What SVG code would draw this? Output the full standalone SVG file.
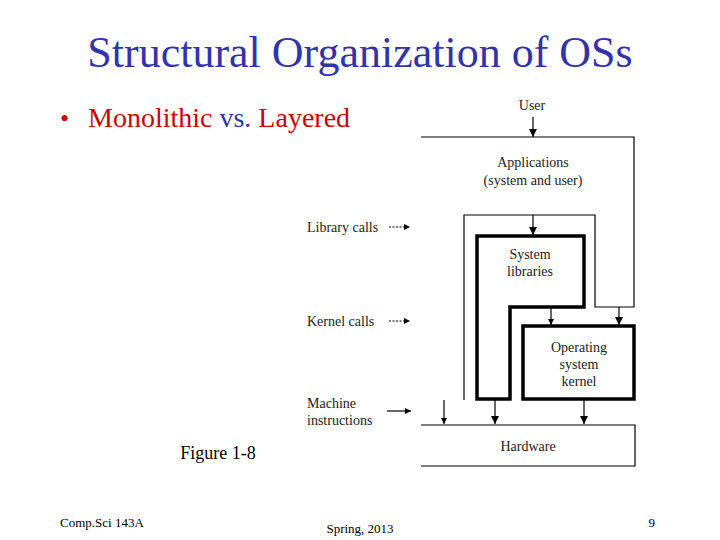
<svg xmlns="http://www.w3.org/2000/svg" width="720" height="540" viewBox="0 0 720 540">
<defs>
<marker id="ah" viewBox="0 0 10 10" refX="10" refY="5" markerWidth="6" markerHeight="7" markerUnits="userSpaceOnUse" orient="auto"><path d="M0,0 L10,5 L0,10 z" fill="#000"/></marker>
<marker id="ahb" viewBox="0 0 10 10" refX="10" refY="5" markerWidth="8" markerHeight="8" markerUnits="userSpaceOnUse" orient="auto"><path d="M0,0 L10,5 L0,10 z" fill="#000"/></marker>
</defs>
<style>
.s{font-family:"Liberation Serif",serif}
.f{font-family:"Liberation Serif",serif;font-size:14px;fill:#222}
.ln{fill:none;stroke:#000;stroke-width:1.2}
.thk{fill:none;stroke:#000;stroke-width:3.5}
</style>
<rect width="720" height="540" fill="#fff"/>
<text class="s" x="360" y="67" font-size="44" fill="#3333aa" text-anchor="middle">Structural Organization of OSs</text>
<text class="s" x="60" y="127" font-size="26" fill="#cc0000">•</text>
<text class="s" x="88" y="127" font-size="28"><tspan fill="#cc0000">Monolithic </tspan><tspan fill="#3333aa">vs. </tspan><tspan fill="#cc0000">Layered</tspan></text>
<g id="applications">
<path class="ln" d="M421,137 H634 V307 H595 V215 H464 V400"/>
<text class="f" x="533" y="167" text-anchor="middle">Applications</text>
<text class="f" x="533" y="185" text-anchor="middle">(system and user)</text>
</g>
<g id="syslib">
<path class="thk" d="M477,236 H584 V307 H510 V399 H477 Z"/>
<text class="f" x="530" y="259" text-anchor="middle">System</text>
<text class="f" x="530" y="276" text-anchor="middle">libraries</text>
</g>
<g id="kernel">
<rect class="thk" x="523" y="326" width="111" height="73"/>
<text class="f" x="579" y="352" text-anchor="middle">Operating</text>
<text class="f" x="579" y="369" text-anchor="middle">system</text>
<text class="f" x="579" y="386" text-anchor="middle">kernel</text>
</g>
<g id="hardware">
<path class="ln" d="M421,425 H635 V466 H421"/>
<text class="f" x="528" y="451" text-anchor="middle">Hardware</text>
</g>
<g id="labels">
<text class="f" x="532" y="110" text-anchor="middle">User</text>
<text class="f" x="307" y="232">Library calls</text>
<text class="f" x="307" y="326">Kernel calls</text>
<text class="f" x="307" y="408">Machine</text>
<text class="f" x="307" y="425">instructions</text>
<text class="s" x="218" y="459" font-size="18" text-anchor="middle">Figure 1-8</text>
<text class="s" x="60" y="527" font-size="13">Comp.Sci 143A</text>
<text class="s" x="360" y="533" font-size="13" text-anchor="middle">Spring, 2013</text>
<text class="s" x="655" y="527" font-size="13" text-anchor="end">9</text>
</g>
<g id="connectors">
<line class="ln" x1="533" y1="117" x2="533" y2="137" stroke-width="2" marker-end="url(#ahb)"/>
<line class="ln" x1="533" y1="215" x2="533" y2="235" stroke-width="2" marker-end="url(#ahb)"/>
<line class="ln" x1="551" y1="307" x2="551" y2="325" marker-end="url(#ah)"/>
<line class="ln" x1="619" y1="307" x2="619" y2="325" stroke-width="2" marker-end="url(#ahb)"/>
<line class="ln" x1="444" y1="400" x2="444" y2="424" marker-end="url(#ah)"/>
<line class="ln" x1="495" y1="399" x2="495" y2="424" stroke-width="2" marker-end="url(#ahb)"/>
<line class="ln" x1="584" y1="399" x2="584" y2="424" stroke-width="2" marker-end="url(#ahb)"/>
<line class="ln" x1="389" y1="227" x2="410" y2="227" stroke-dasharray="2,1.5" marker-end="url(#ah)"/>
<line class="ln" x1="389" y1="321" x2="410" y2="321" stroke-dasharray="2,1.5" marker-end="url(#ah)"/>
<line class="ln" x1="387" y1="411" x2="411" y2="411" marker-end="url(#ah)"/>
</g>
</svg>
